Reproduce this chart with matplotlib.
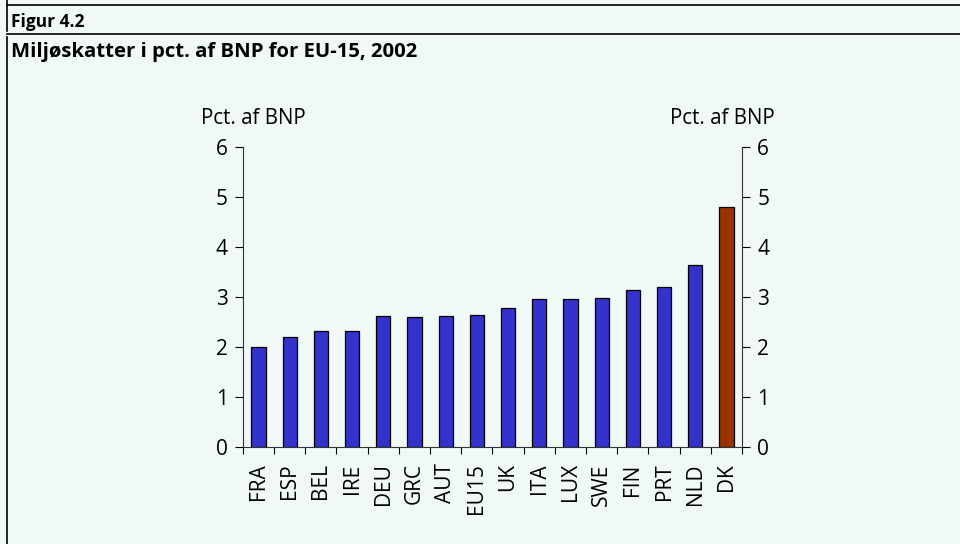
import numpy as np
import matplotlib.pyplot as plt
from matplotlib.lines import Line2D

# data
lande = ['FRA', 'ESP', 'BEL', 'IRE', 'DEU', 'GRC', 'AUT', 'EU15', 'UK',
         'ITA', 'LUX', 'SWE', 'FIN', 'PRT', 'NLD', 'DK']
vaerdier = [2.0, 2.2, 2.31, 2.31, 2.61, 2.6, 2.62, 2.64, 2.77,
            2.95, 2.95, 2.97, 3.13, 3.19, 3.64, 4.79]
y_ticks = [0, 1, 2, 3, 4, 5, 6]

baggrund = '#f0f9f6'
blaa = '#3333cc'
roed = '#993300'

plt.rcParams['font.family'] = ['Open Sans', 'DejaVu Sans']

fig = plt.figure(figsize=(9.6, 5.44), dpi=100, facecolor=baggrund)
ax = fig.add_axes([0.253, 0.179, 0.520, 0.551])
ax.set_facecolor(baggrund)

x = np.arange(len(lande))
farver = [roed if l == 'DK' else blaa for l in lande]
ax.bar(x, vaerdier, width=0.45, color=farver, edgecolor='black', linewidth=0.9, zorder=3)

ax.set_xlim(-0.5, len(lande) - 0.5)
ax.set_ylim(0, 6)
ax.set_yticks(y_ticks)
ax.tick_params(axis='y', labelsize=15, direction='out', length=6, width=0.8,
               pad=5, left=True, right=True, labelright=True, colors='black')
ax.set_xticks(x)
ax.set_xticklabels(lande, rotation=90, fontsize=15)
ax.tick_params(axis='x', which='major', length=0, pad=12)
ax.set_xticks(np.arange(-0.5, len(lande)), minor=True)
ax.tick_params(axis='x', which='minor', direction='out', length=5, width=0.8)
ax.spines['top'].set_visible(False)
for s in ['left', 'right', 'bottom']:
    ax.spines[s].set_linewidth(0.8)
    ax.spines[s].set_color('#333333')

# akse-enheder
fig.text(0.209, 1 - 124 / 544, 'Pct. af BNP', fontsize=14.8, ha='left', va='baseline')
fig.text(0.807, 1 - 124 / 544, 'Pct. af BNP', fontsize=14.8, ha='right', va='baseline')

# overskrift og rammelinjer
fig.text(0.011, 1 - 27 / 544, 'Figur 4.2', fontsize=12.5, fontweight='bold',
         ha='left', va='baseline')
fig.text(0.011, 1 - 57 / 544, 'Miljøskatter i pct. af BNP for EU-15, 2002', fontsize=14.6,
         fontweight='bold', ha='left', va='baseline')
fig.add_artist(Line2D([0.007, 1.0], [1 - 5 / 544, 1 - 5 / 544], color='black', lw=1.2))
fig.add_artist(Line2D([0.007, 1.0], [1 - 34 / 544, 1 - 34 / 544], color='black', lw=1.2))
fig.add_artist(Line2D([0.0073, 0.0073], [1 - 31 / 544, 1.0], color='black', lw=1.2))
fig.add_artist(Line2D([0.0073, 0.0073], [0.0, 1 - 37 / 544], color='black', lw=1.2))

fig.savefig('out.png', dpi=100, facecolor=baggrund)
